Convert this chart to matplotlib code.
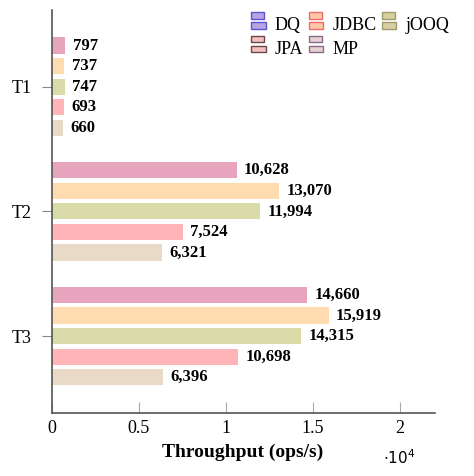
import matplotlib
matplotlib.use("Agg")
import matplotlib.pyplot as plt
import numpy as np
from matplotlib.patches import Rectangle

plt.rcParams['font.family'] = ['Liberation Serif', 'DejaVu Serif']

# Data (top to bottom within each group)
tests = ['T1', 'T2', 'T3']
series = ['DQ', 'JDBC', 'jOOQ', 'JPA', 'MP']
dq = [797, 10628, 14660]
jdbc = [737, 13070, 15919]
jooq = [747, 11994, 14315]
jpa = [693, 7524, 10698]
mp = [660, 6321, 6396]
values = [dq, jdbc, jooq, jpa, mp]

bar_colors = ['#e6a5bd', '#ffdbb0', '#d9dba8', '#ffb5b8', '#e9dac8']
leg_face = ['#b9a3e3', '#ffc9a8', '#d6cf9f', '#f5bfc0', '#e6d2d2']
leg_edge = ['#5a55d0', '#f06a66', '#a09a6e', '#6a4848', '#8a6a8a']


class TwoBarHandler:
    def __init__(self, face, edge):
        self.face = face
        self.edge = edge

    def legend_artist(self, legend, orig_handle, fontsize, handlebox):
        x0, y0 = handlebox.xdescent, handlebox.ydescent
        w, h = handlebox.width, handlebox.height
        bh = h * 0.38
        r1 = Rectangle((x0, y0 + h * 0.62), w * 0.9, bh, facecolor=self.face,
                       edgecolor=self.edge, lw=1.0, transform=handlebox.get_transform())
        r2 = Rectangle((x0, y0), w, bh, facecolor=self.face,
                       edgecolor=self.edge, lw=1.0, transform=handlebox.get_transform())
        handlebox.add_artist(r1)
        handlebox.add_artist(r2)
        return r2


fig = plt.figure(figsize=(4.74, 4.76), dpi=100)
ax = fig.add_axes([51.5 / 474, 1 - 413 / 476, (434.7 - 51.5) / 474, (413 - 10) / 476])

y = np.arange(len(tests))
step = 0.165
bar_h = 0.13
handles = []
for i, vals in enumerate(values):
    pos = y + (i - 2) * step
    b = ax.barh(pos, vals, height=bar_h, color=bar_colors[i], label=series[i])
    handles.append(b)
    for p, v in zip(pos, vals):
        ax.text(v + 420, p, f'{v:,}', va='center', ha='left',
                fontsize=12, fontweight='bold')

ax.set_xlim(0, 22000)
ax.set_ylim(2.617, -0.615)
ax.set_yticks(y)
ax.set_yticklabels(tests)
ax.set_xticks([0, 5000, 10000, 15000, 20000])
ax.set_xticklabels(['0', '0.5', '1', '1.5', '2'])
ax.tick_params(axis='x', direction='in', length=8, color='#aaaaaa', labelsize=13, pad=5)
ax.tick_params(axis='y', direction='out', length=7, color='#888888', labelsize=13, pad=7)
for s in ['top', 'right']:
    ax.spines[s].set_visible(False)
for s in ['left', 'bottom']:
    ax.spines[s].set_color('#555555')
    ax.spines[s].set_linewidth(1.2)

ax.set_xlabel('Throughput (ops/s)', fontsize=14, fontweight='bold', labelpad=5)
fig.text(383 / 474, 1 - 458 / 476, r'$\cdot 10^4$', fontsize=11, ha='left', va='center')

# legend filled row by row: DQ JDBC jOOQ / JPA MP
order = [0, 3, 1, 4, 2]
handler_map = {h: TwoBarHandler(leg_face[i], leg_edge[i]) for i, h in enumerate(handles)}
ax.legend(handles=[handles[i] for i in order], labels=[series[i] for i in order],
          handler_map=handler_map, ncol=3, frameon=False, fontsize=13,
          loc='upper right', bbox_to_anchor=(1.08, 1.025),
          handlelength=0.8, handleheight=1.0, handletextpad=0.5,
          columnspacing=0.3, labelspacing=0.3)

fig.savefig('out.png', dpi=100)
